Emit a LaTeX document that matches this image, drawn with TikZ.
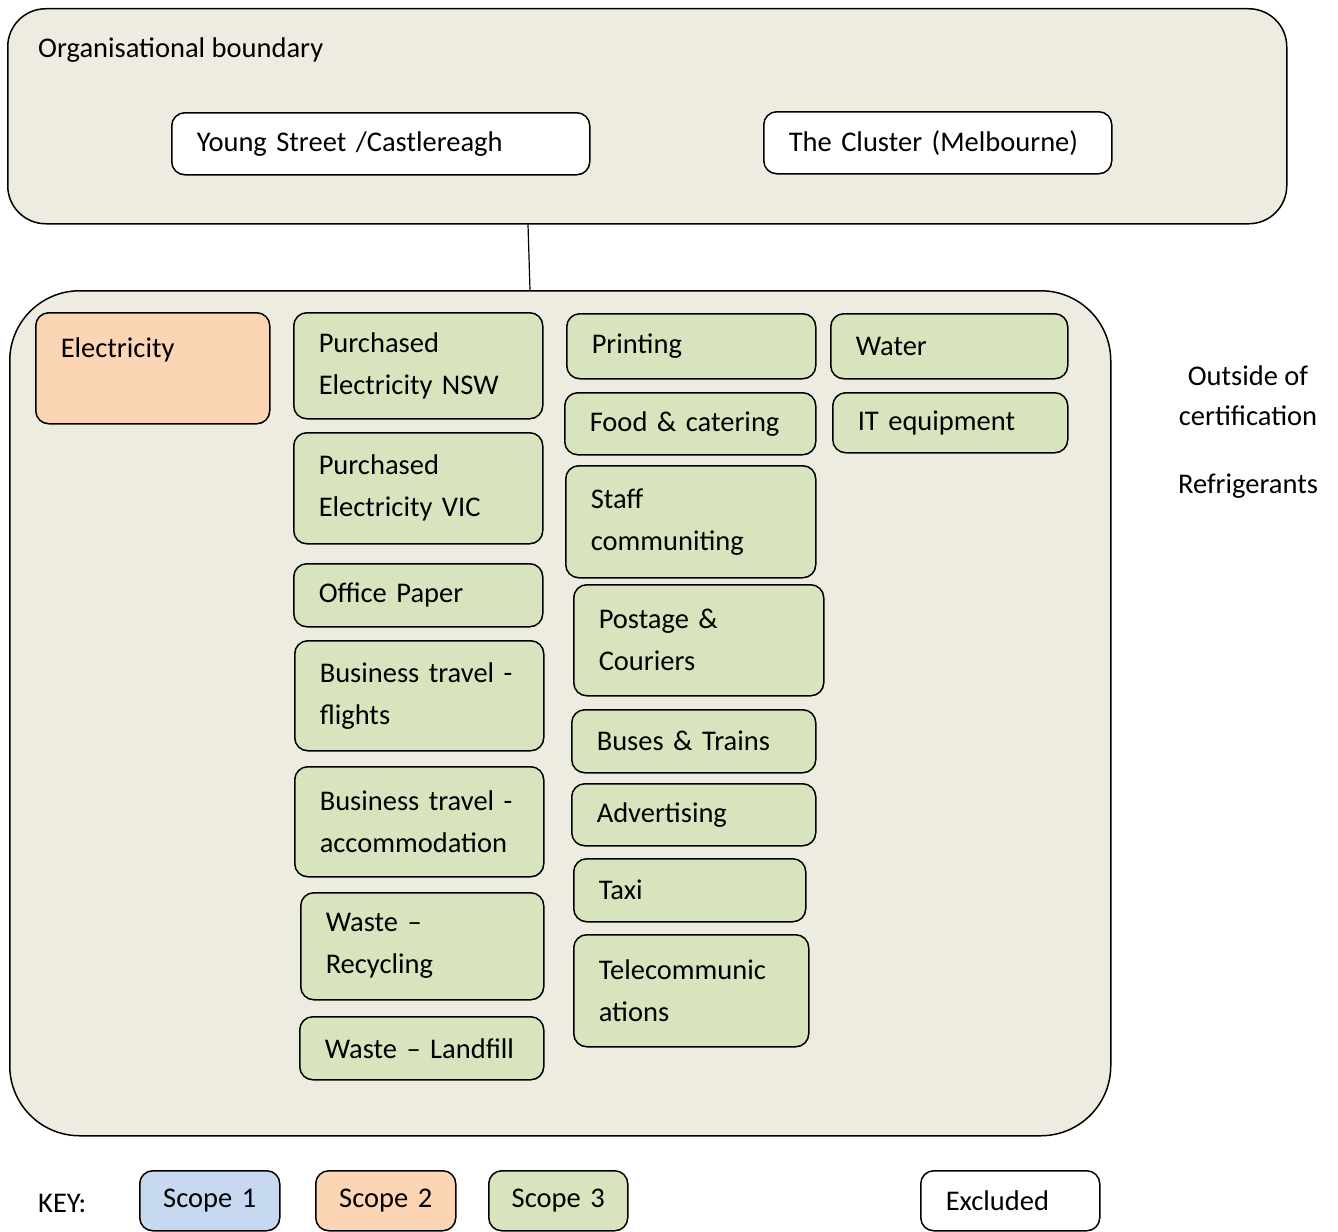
\documentclass[tikz,border=0pt]{standalone}
\usepackage{fontspec}
\setmainfont{Carlito}
\usepackage{xcolor}
\definecolor{bgbeige}{HTML}{EEECE1}
\definecolor{sone}{HTML}{C6D9F1}
\definecolor{stwo}{HTML}{FCD5B5}
\definecolor{sthree}{HTML}{D7E4BD}
\begin{document}
\begin{tikzpicture}[x=1pt, y=-1pt, font=\fontsize{28.5}{42}\selectfont,
  frame/.style={draw, fill=bgbeige, line width=1.5, inner sep=0, anchor=north west},
  box/.style={draw, rounded corners=13, line width=1.5, inner xsep=25, inner ysep=0, align=left, anchor=north west},
  ex node/.style={box, fill=white},
  s1 node/.style={box, fill=sone},
  s2 node/.style={box, fill=stwo},
  s3 node/.style={box, fill=sthree},
  key node/.style={inner xsep=15, text width=110, align=center},
  lbl/.style={inner sep=0}]
\useasboundingbox (0,0) rectangle (1338,1231);
% boundaries
\node[frame, rounded corners=38, minimum width=1279, minimum height=215] (org) at (7,8) {};
\node[frame, rounded corners=70, minimum width=1101, minimum height=845] (incl) at (9,290) {};
\draw[line width=1.2] (528,0 |- org.south) -- (530,0 |- incl.north);
\node[lbl, anchor=base west] (orgtitle) at (38,57) {Organisational boundary};
\node[ex node, text width=368, minimum height=62] (young) at (171,112) {Young Street /Castlereagh};
\node[ex node, text width=298, minimum height=62] (cluster) at (763,111) {The Cluster (Melbourne)};
% scope 2
\node[s2 node, text width=184, minimum height=111] (elec) at (35,312) {Electricity\\\mbox{}};
% scope 3, second column
\node[s3 node, text width=199, minimum height=106] (nsw) at (293,312) {Purchased\\Electricity NSW};
\node[s3 node, text width=199, minimum height=111] (vic) at (293,432) {Purchased\\Electricity VIC};
\node[s3 node, text width=199, minimum height=63] (paper) at (293,563) {Office Paper};
\node[s3 node, text width=199, minimum height=110] (flights) at (294,640) {Business travel -\\flights};
\node[s3 node, text width=199, minimum height=110] (accom) at (294,766) {Business travel -\\accommodation};
\node[s3 node, text width=193, minimum height=107] (recyc) at (300,892) {Waste --\\Recycling};
\node[s3 node, text width=194, minimum height=63] (landfill) at (299,1016) {Waste -- Landfill};
% third column
\node[s3 node, text width=199, minimum height=65] (printing) at (566,313) {Printing};
\node[s3 node, text width=201, minimum height=62] (food) at (564,392) {Food \& catering};
\node[s3 node, text width=200, minimum height=112] (staff) at (565,465) {Staff\\communiting};
\node[s3 node, text width=200, minimum height=111] (postage) at (573,584) {Postage \&\\Couriers};
\node[s3 node, text width=194, minimum height=63] (buses) at (571,709) {Buses \& Trains};
\node[s3 node, text width=194, minimum height=62] (advert) at (571,783) {Advertising};
\node[s3 node, text width=182, minimum height=63] (taxi) at (573,858) {Taxi};
\node[s3 node, text width=185, minimum height=112] (telecom) at (573,934) {Telecommunic\\ations};
% fourth column
\node[s3 node, text width=187, minimum height=65] (water) at (830,313) {Water};
\node[s3 node, text width=185, minimum height=60] (itequip) at (832,392) {IT equipment};
% outside
\node[lbl, anchor=base] (outside) at (1248,385) {Outside of};
\node[lbl, anchor=base] (cert) at (1248,425) {certification};
\node[lbl, anchor=base] (refrig) at (1248,493) {Refrigerants};
% key
\node[lbl, anchor=base west] (key) at (38,1212) {KEY:};
\node[s1 node, key node, minimum height=60] (scopeone) at (139,1170) {Scope 1};
\node[s2 node, key node, minimum height=60] (scopetwo) at (315,1170) {Scope 2};
\node[s3 node, key node, text width=109, minimum height=60] (scopethree) at (488,1170) {Scope 3};
\node[ex node, text width=129, minimum height=60] (excluded) at (920,1170) {Excluded};
\end{tikzpicture}
\end{document}
